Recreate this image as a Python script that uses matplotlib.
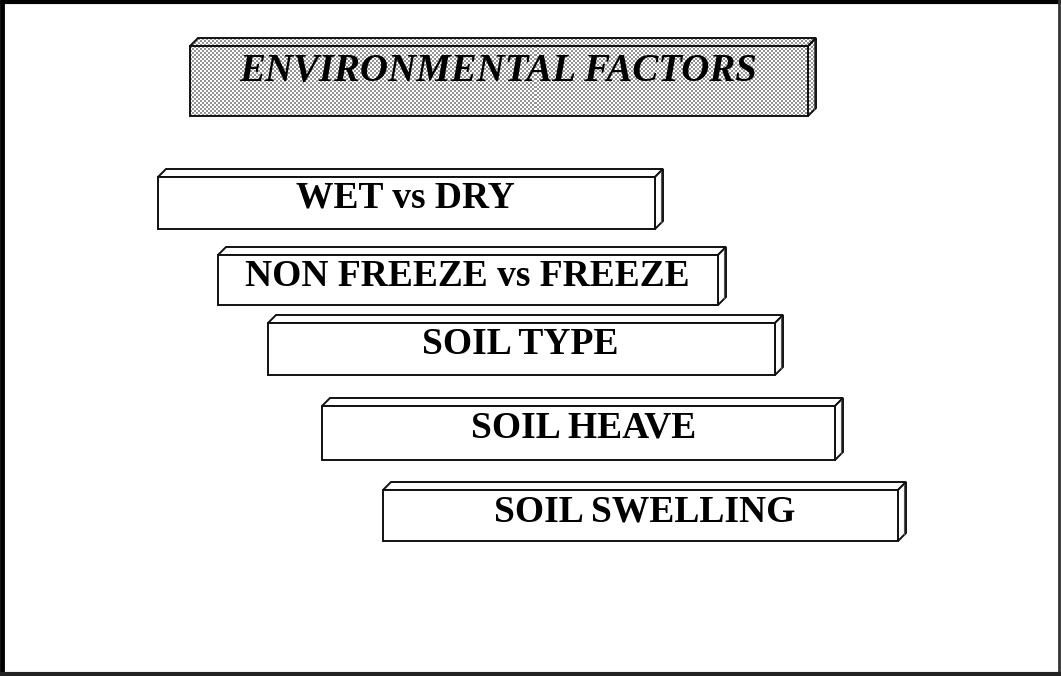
import numpy as np
import matplotlib

matplotlib.use("Agg")
import matplotlib.pyplot as plt  # noqa: E402
from matplotlib.patches import Polygon, Rectangle  # noqa: E402

W, H = 1061, 676

# boxes in pixel coords: front face left, top, right, bottom
labels = ["WET vs DRY", "NON FREEZE vs FREEZE", "SOIL TYPE", "SOIL HEAVE", "SOIL SWELLING"]
box_left = [158, 218, 268, 322, 383]
box_top = [177, 255, 323, 406, 490]
box_right = [655, 718, 775, 835, 898]
box_bottom = [229, 305, 375, 460, 541]
text_x = [405, 467, 520, 584, 645]
text_base = [207, 286, 354, 437, 521]

title = "ENVIRONMENTAL FACTORS"
title_box = (190, 46, 808, 116)
title_x, title_base = 498, 81

DX, DY = 8, 8  # depth of the 3d slab


def slab(ax, l, t, r, b, face="white"):
    top = Polygon([(l, t), (l + DX, t - DY), (r + DX, t - DY), (r, t)],
                  closed=True, fc=face, ec="#111111", lw=1.4, zorder=2)
    side = Polygon([(r, t), (r + DX, t - DY), (r + DX, b - DY), (r, b)],
                   closed=True, fc=face, ec="#111111", lw=1.4, zorder=2)
    front = Rectangle((l, t), r - l, b - t, fc=face, ec="#111111", lw=1.4, zorder=3)
    for p in (top, side, front):
        ax.add_patch(p)
    # inner line on the side face
    ax.plot([r + DX - 2.5, r + DX - 2.5], [t - DY + 3, b - DY + 2], color="#555555",
            lw=0.8, zorder=4)
    return (top, side, front)


fig = plt.figure(figsize=(W / 100, H / 100), dpi=100)
ax = fig.add_axes([0, 0, 1, 1])
ax.axis("off")

# title slab with a checker texture
l, t, r, b = title_box
patches = slab(ax, l, t, r, b, face="none")
yy, xx = np.indices((H // 2, W // 2))
checker = ((xx + yy) % 2).astype(float)
for p in patches:
    im = ax.imshow(checker, cmap="gray", vmin=-1.4, vmax=1.0, extent=(0, W, H, 0),
                   interpolation="nearest", zorder=1)
    im.set_clip_path(p)
ax.set_xlim(0, W)
ax.set_ylim(H, 0)
ax.text(title_x, title_base, title, ha="center", va="baseline", fontsize=28,
        family="Liberation Serif", style="italic", weight="bold", zorder=5)

for lab, l, t, r, b, tx, tb in zip(labels, box_left, box_top, box_right, box_bottom,
                                    text_x, text_base):
    slab(ax, l, t, r, b)
    ax.text(tx, tb, lab, ha="center", va="baseline", fontsize=27,
            family="Liberation Serif", weight="bold", zorder=5)

# outer frame
ax.plot([2, 2], [0, H], color="black", lw=3.5)
ax.plot([0, W], [1.5, 1.5], color="black", lw=3)
ax.plot([W - 2, W - 2], [0, H], color="#333333", lw=2)
ax.plot([0, W], [H - 2, H - 2], color="#222222", lw=3)

fig.savefig("out.png", dpi=100, facecolor="white")
